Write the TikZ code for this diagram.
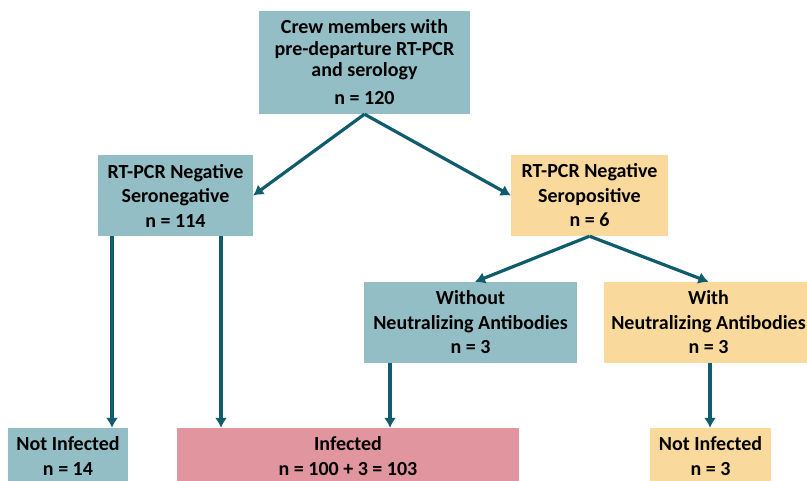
\documentclass[tikz,border=0pt]{standalone}
\usepackage{fontspec}
\setmainfont{Carlito}
\usetikzlibrary{arrows.meta}
\definecolor{tealbox}{HTML}{94BEC5}
\definecolor{sandbox}{HTML}{FAD99C}
\definecolor{rosebox}{HTML}{E0959F}
\definecolor{flowc}{HTML}{0E5C6C}
\tikzset{>={Latex[length=10pt,width=12pt]}}
\tikzset{box/.style={rectangle,inner sep=0pt,align=center,
    font=\bfseries\fontsize{20}{24.5}\selectfont},
  flow/.style={->,draw=flowc,line width=3.2pt}}

\begin{document}
\begin{tikzpicture}[x=1pt,y=-1pt]
  \useasboundingbox (0,0) rectangle (807,481);
  % boxes
  \node[box,fill=tealbox,minimum width=211pt,minimum height=103pt,
    font=\bfseries\fontsize{20}{21.5}\selectfont] (crew) at (364.5,62.5)
    {Crew members with\\pre-departure RT-PCR\\and serology\\[6.5pt]n = 120};
  \node[box,fill=tealbox,minimum width=155pt,minimum height=81pt] (neg) at (175.5,195.5)
    {RT-PCR Negative\\Seronegative\\n = 114};
  \node[box,fill=sandbox,minimum width=157pt,minimum height=81pt] (pos) at (589.5,195.5)
    {RT-PCR Negative\\Seropositive\\n = 6};
  \node[box,fill=tealbox,minimum width=213pt,minimum height=81pt] (noab) at (470.5,322.5)
    {Without\\Neutralizing Antibodies\\n = 3};
  \node[box,fill=sandbox,minimum width=209pt,minimum height=81pt] (ab) at (708.5,322.5)
    {With\\Neutralizing Antibodies\\n = 3};
  \node[box,fill=tealbox,minimum width=120pt,minimum height=56pt] (notinfA) at (68,456)
    {Not Infected\\n = 14};
  \node[box,fill=rosebox,minimum width=342pt,minimum height=56pt] (infected) at (348,456)
    {Infected\\n = 100 + 3 = 103};
  \node[box,fill=sandbox,minimum width=121pt,minimum height=56pt] (notinfB) at (710.5,456)
    {Not Infected\\n = 3};
  % arrows
  \draw[flow] (crew.south) -- (neg.east);
  \draw[flow] (crew.south) -- (pos.west);
  \draw[flow] (pos.south) -- ([xshift=4.5pt]noab.north);
  \draw[flow] (pos.south) -- (ab.north);
  \draw[flow] ([xshift=-63.5pt]neg.south) -- ([xshift=-63.5pt]neg.south |- notinfA.north);
  \draw[flow] ([xshift=45.5pt]neg.south) -- ([xshift=45.5pt]neg.south |- infected.north);
  \draw[flow] ([xshift=-80.5pt]noab.south) -- ([xshift=-80.5pt]noab.south |- infected.north);
  \draw[flow] ([xshift=1.5pt]ab.south) -- ([xshift=1.5pt]ab.south |- notinfB.north);
\end{tikzpicture}
\end{document}
